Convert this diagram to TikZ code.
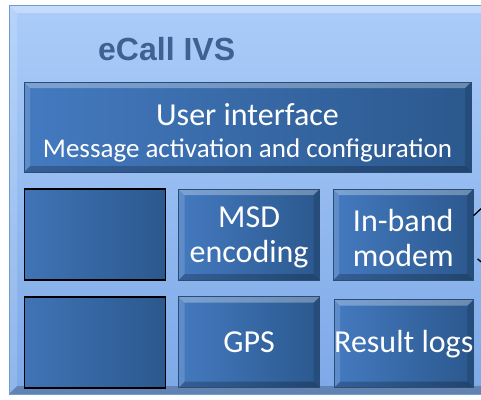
\documentclass[tikz,border=0pt]{standalone}
\usepackage{fontspec}
\setmainfont{Carlito}
\newfontfamily\titlefont{Liberation Sans}
\usepackage{xcolor}
\usetikzlibrary{positioning, shadows}

\definecolor{panelhi}{HTML}{ABCCF9}
\definecolor{panello}{HTML}{7DA9E7}
\definecolor{paneledge}{HTML}{7199D2}
\definecolor{blockhi}{HTML}{447AC0}
\definecolor{blocklo}{HTML}{2B588D}
\definecolor{blockedge}{HTML}{2A4D78}
\definecolor{titleblue}{HTML}{3D6190}

\begin{document}
\begin{tikzpicture}[
    x=1pt, y=-1pt,
    bevel/.style={path picture={
        \fill[white, opacity=0.3] (path picture bounding box.north west) -- (path picture bounding box.north east)
            -- ([shift={(-#1,-#1)}]path picture bounding box.north east) -- ([shift={(#1,-#1)}]path picture bounding box.north west) -- cycle;
        \fill[white, opacity=0.15] (path picture bounding box.north west) -- ([shift={(#1,-#1)}]path picture bounding box.north west)
            -- ([shift={(#1,#1)}]path picture bounding box.south west) -- (path picture bounding box.south west) -- cycle;
        \fill[black, opacity=0.12] (path picture bounding box.north east) -- ([shift={(-#1,-#1)}]path picture bounding box.north east)
            -- ([shift={(-#1,#1)}]path picture bounding box.south east) -- (path picture bounding box.south east) -- cycle;
        \fill[black, opacity=0.22] (path picture bounding box.south west) -- ([shift={(#1,#1)}]path picture bounding box.south west)
            -- ([shift={(-#1,#1)}]path picture bounding box.south east) -- (path picture bounding box.south east) -- cycle;
    }},
    panel/.style={draw=paneledge, line width=1pt, top color=panelhi, bottom color=panello, bevel=8pt},
    block/.style={rectangle, draw=blockedge, line width=0.6pt, shading angle=-20, left color=blockhi, right color=blocklo,
        bevel=6pt, drop shadow={shadow xshift=0.8pt, shadow yshift=-1.2pt, opacity=0.35},
        text=white, align=center, inner sep=0pt, minimum width=141pt, minimum height=91pt,
        font=\fontsize{32}{35}\selectfont},
    blank/.style={rectangle, draw=black, line width=1.6pt, shading angle=-30, left color=blockhi!95!black, right color=blocklo,
        minimum width=141pt, minimum height=91pt},
    link/.style={draw=black, line width=1.3pt}
]
    \useasboundingbox (0,0) rectangle (481,399);
    \clip (0,0) rectangle (481,399);
    \fill[white] (0,0) rectangle (481,399);

    % outer panel, cut by the right edge
    \path[panel] (9,5) rectangle (500,394);
    \node[anchor=base west, text=titleblue, inner sep=0pt,
        font=\titlefont\bfseries\fontsize{32}{35}\selectfont] (title) at (98,60) {eCall IVS};

    \node[block, minimum width=447pt, minimum height=90pt] (ui) at (247.5,127)
        {\rule{0pt}{34pt}User interface\\[-3pt]{\fontsize{27}{30}\selectfont Message activation and configuration}};

    \node[blank, below right=16pt and 0pt of ui.south west] (slotA) {};
    \node[block, right=12pt of slotA] (msd) {\rule{0pt}{27pt}MSD\\encoding};
    \node[block, right=13pt of msd, minimum width=140pt] (modem) {\rule{0pt}{30pt}In-band\\modem};

    \node[blank, below=15pt of slotA] (slotB) {};
    \node[block, right=12pt of slotB] (gps) {GPS};
    \node[block, right=14pt of gps, yshift=-1.5pt, minimum width=139pt, minimum height=88pt] (logs) {Result logs};

    \coordinate (outA) at (486,204);
    \coordinate (outB) at (486,266);
    \draw[link] (modem.15) -- (outA);
    \draw[link] ([xshift=4pt]modem.-19) -- (outB);
\end{tikzpicture}
\end{document}
